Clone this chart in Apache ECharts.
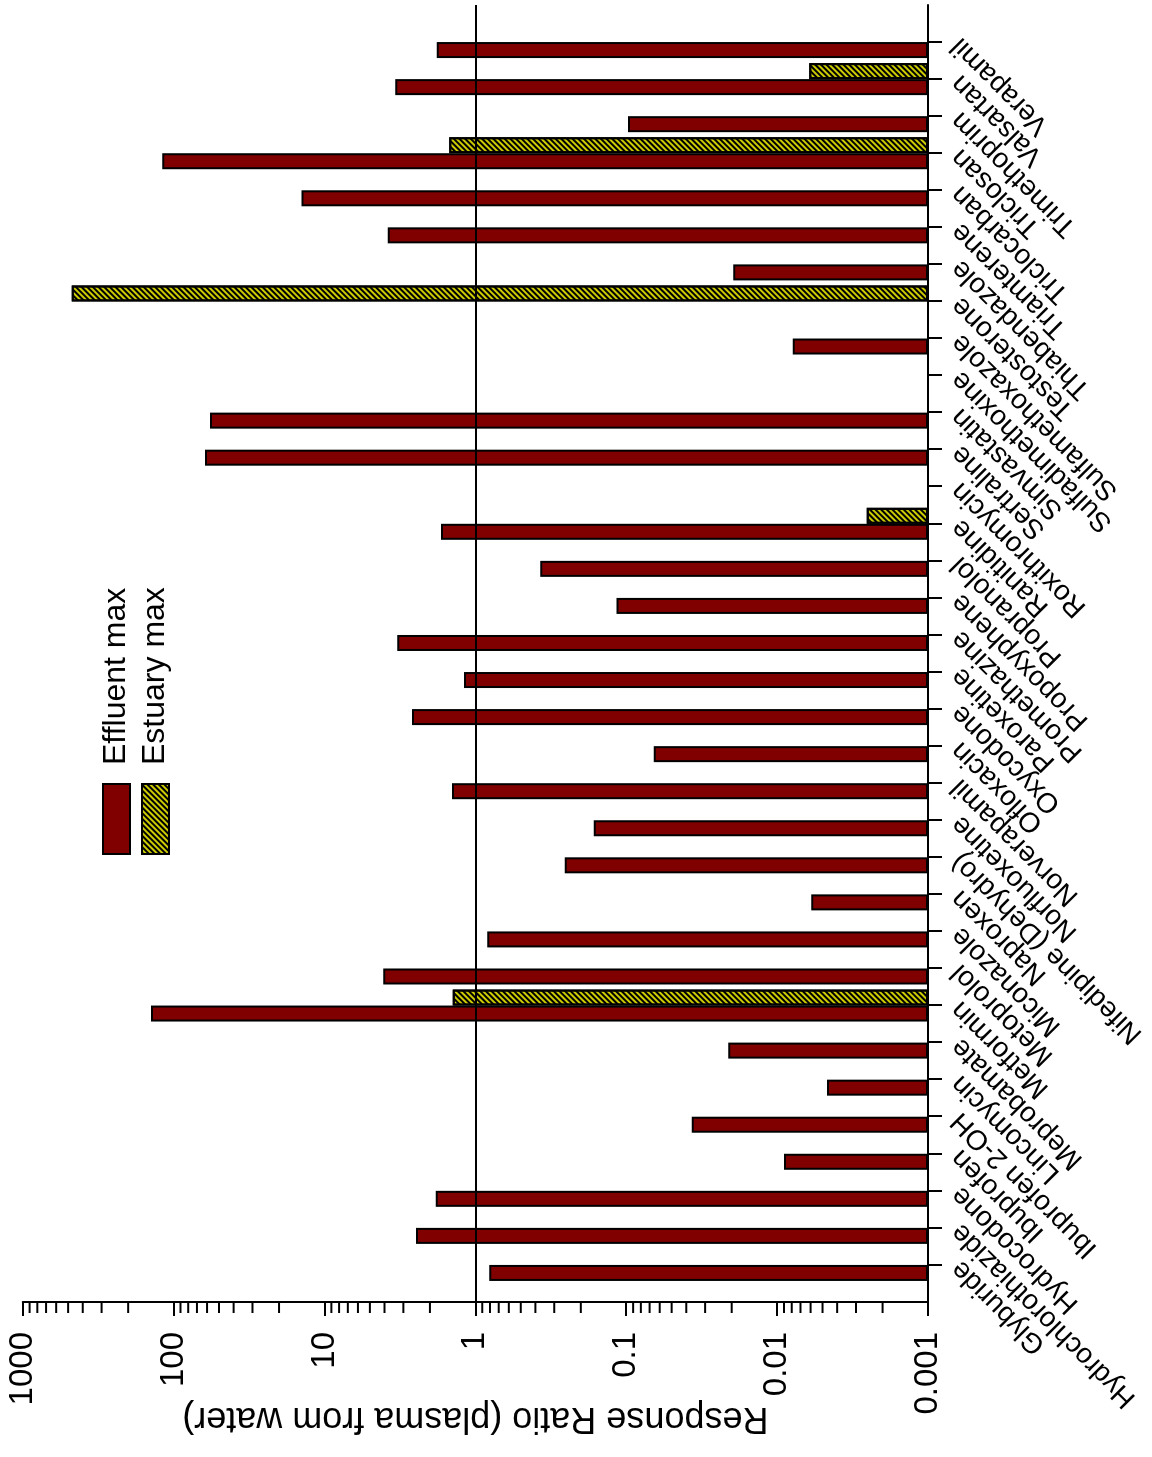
<!DOCTYPE html>
<html>
<head>
<meta charset="utf-8">
<script src="https://cdn.jsdelivr.net/npm/echarts@6/dist/echarts.min.js"></script>
<style>
  html, body { margin: 0; padding: 0; width: 1152px; height: 1457px; overflow: hidden; background: #fff; }
  /* the chart is laid out landscape and turned a quarter turn counter-clockwise */
  #chart { position: absolute; left: 0; top: 0; width: 1457px; height: 1152px;
           transform-origin: 0 0; transform: translate(0px, 1457px) rotate(-90deg); }
</style>
</head>
<body>
<div id="chart"></div>
<script>
const compounds = [
  'Glyburide', 'Hydrochlorothiazide', 'Hydrocodone', 'Ibuprofen', 'Ibuprofen 2-OH',
  'Lincomycin', 'Meprobamate', 'Metformin', 'Metoprolol', 'Miconazole', 'Naproxen',
  'Nifedipine (Dehydro)', 'Norfluoxetine', 'Norverapamil', 'Ofloxacin', 'Oxycodone',
  'Paroxetine', 'Promethazine', 'Propoxyphene', 'Propranolol', 'Ranitidine',
  'Roxithromycin', 'Sertraline', 'Simvastatin', 'Sulfadimethoxine', 'Sulfamethoxazole',
  'Testosterone', 'Thiabendazole', 'Triamterene', 'Triclocarban', 'Triclosan',
  'Trimethoprim', 'Valsartan', 'Verapamil'
];

const effluentMax = [
  0.81, 2.47, 1.83, 0.0090, 0.0368,
  0.00467, 0.0211, 141, 4.07, 0.835, 0.00595,
  0.256, 0.164, 1.43, 0.0658, 2.63,
  1.19, 3.29, 0.116, 0.372, 1.69,
  null, 61.8, 57.3, null, 0.00789,
  null, 0.0195, 3.81, 14.2, 119,
  0.0973, 3.40, 1.80
];

const estuaryMax = [
  null, null, null, null, null,
  null, null, 1.41, null, null, null,
  null, null, null, null, null,
  null, null, null, null, 0.00255,
  null, null, null, null, null,
  473, null, null, null, 1.49,
  null, 0.00612, null
];

const valueTicks = [0.001, 0.01, 0.1, 1, 10, 100, 1000];
const valueTickLabels = ['0.001', '0.01', '0.1', '1', '10', '100', '1000'];
const minorMultipliers = [2, 3, 4, 5, 6, 7, 8, 9];

const FONT = "'Liberation Sans', Arial, sans-serif";

// one empty slot at each end of the category axis
const axisCats = [''].concat(compounds, ['']);
const pad = arr => [null].concat(arr, [null]);

// minor ticks 2..9 inside every decade of the log axis
const minorTicks = [];
valueTicks.slice(0, -1).forEach(d => minorMultipliers.forEach(m => minorTicks.push([0, d * m])));

const chart = echarts.init(document.getElementById('chart'), null, { renderer: 'canvas' });

chart.setOption({
  animation: false,
  backgroundColor: '#fff',
  textStyle: { fontFamily: FONT, color: '#000' },
  grid: { left: 155, right: 5, top: 22.7, bottom: 224, containLabel: false, outerBoundsMode: 'none' },
  legend: {
    orient: 'vertical',
    left: 602,
    top: 100.5,
    padding: 0,
    itemWidth: 70,
    itemHeight: 27,
    itemGap: 7,
    icon: 'rect',
    data: ['Effluent max', 'Estuary max'],
    textStyle: { fontSize: 32, fontFamily: FONT, color: '#000', padding: [0, 0, 0, 14] }
  },
  xAxis: {
    type: 'category',
    data: axisCats,
    boundaryGap: false,
    axisLine: { lineStyle: { color: '#000', width: 2 } },
    axisTick: {
      length: 14,
      interval: (i) => i > 0 && i < axisCats.length - 1,
      lineStyle: { color: '#000', width: 2 }
    },
    axisLabel: { interval: 0, rotate: 45, fontSize: 28, margin: 28, color: '#000', fontFamily: FONT },
    splitLine: { show: false }
  },
  yAxis: {
    type: 'log',
    logBase: 10,
    min: 0.001,
    max: 1000,
    startValue: 0.001,
    splitNumber: 6,
    name: 'Response Ratio (plasma from water)',
    nameLocation: 'middle',
    nameRotate: 90,
    nameGap: 98,
    nameMoveOverlap: false,
    nameTextStyle: { fontSize: 36, color: '#000', fontFamily: FONT },
    axisLine: { show: true, lineStyle: { color: '#000', width: 2 } },
    axisTick: { show: true, length: 14, lineStyle: { color: '#000', width: 2 } },
    axisLabel: {
      fontSize: 33, margin: 30, color: '#000', fontFamily: FONT,
      formatter: v => valueTickLabels[Math.round(Math.log10(v)) + 3]
    },
    splitLine: { show: false }
  },
  series: [
    {
      name: 'Effluent max',
      type: 'bar',
      data: pad(effluentMax),
      barWidth: 16,
      barGap: '0%',
      itemStyle: { color: '#800000', borderColor: '#000', borderWidth: 2 },
      markLine: {
        silent: true,
        symbol: ['none', 'none'],
        label: { show: false },
        lineStyle: { color: '#000', width: 2, type: 'solid' },
        data: [{ yAxis: 1 }]
      }
    },
    {
      name: 'Estuary max',
      type: 'bar',
      data: pad(estuaryMax),
      barWidth: 16,
      barGap: '0%',
      itemStyle: {
        color: '#cccc00', borderColor: '#000', borderWidth: 2,
        decal: {
          symbol: 'rect', symbolSize: 1, color: '#000',
          dashArrayX: [1, 0], dashArrayY: [2, 2], rotation: -Math.PI / 4
        }
      }
    },
    {
      type: 'custom',
      silent: true,
      data: minorTicks,
      encode: { x: 0, y: 1 },
      renderItem: (params, api) => {
        const p = api.coord([0, api.value(1)]);
        return {
          type: 'line',
          shape: { x1: p[0] - 11, y1: p[1], x2: p[0], y2: p[1] },
          style: { stroke: '#000', lineWidth: 2 }
        };
      }
    }
  ]
});
</script>
</body>
</html>
